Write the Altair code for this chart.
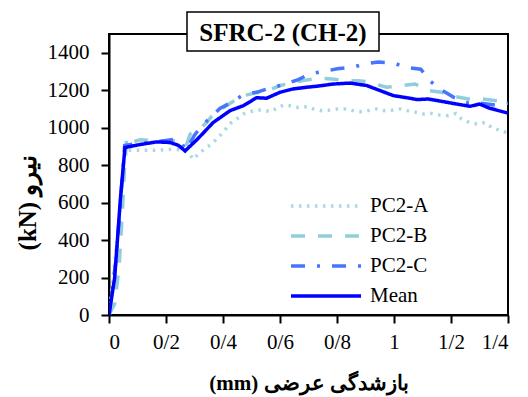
import altair as alt
import pandas as pd

# ---- data ----
mean_x = [0, 0.02, 0.04, 0.056, 0.109, 0.167, 0.214, 0.243, 0.267, 0.308, 0.366, 0.425, 0.471, 0.518, 0.553, 0.6, 0.647, 0.694, 0.729, 0.787, 0.846, 0.904, 0.951, 0.998, 1.056, 1.08, 1.12, 1.173, 1.22, 1.267, 1.3, 1.337, 1.4]
mean_y = [0, 200, 620, 894, 910, 924, 921, 906, 876, 935, 1028, 1091, 1117, 1160, 1157, 1189, 1207, 1216, 1221, 1233, 1238, 1225, 1198, 1171, 1157, 1150, 1153, 1139, 1126, 1114, 1126, 1103, 1078]

a_x = [0, 0.015, 0.035, 0.05, 0.062, 0.109, 0.167, 0.225, 0.26, 0.284, 0.295, 0.313, 0.337, 0.36, 0.389, 0.407, 0.427, 0.448, 0.471, 0.495, 0.518, 0.541, 0.567, 0.591, 0.612, 0.635, 0.664, 0.694, 0.717, 0.746, 0.775, 0.8, 0.828, 0.855, 0.883, 0.91, 0.939, 0.965, 0.995, 1.021, 1.047, 1.077, 1.103, 1.132, 1.161, 1.191, 1.218, 1.237, 1.264, 1.292, 1.319, 1.343, 1.37, 1.4]
a_y = [0, 200, 500, 800, 880, 880, 880, 885, 880, 858, 831, 858, 889, 912, 956, 988, 1024, 1046, 1073, 1085, 1094, 1094, 1085, 1105, 1121, 1117, 1108, 1112, 1100, 1091, 1094, 1100, 1100, 1091, 1085, 1091, 1100, 1091, 1094, 1100, 1091, 1082, 1073, 1076, 1067, 1064, 1076, 1046, 1028, 1019, 1028, 1001, 987, 971]

b_x = [0, 0.02, 0.035, 0.045, 0.055, 0.062, 0.075, 0.109, 0.167, 0.232, 0.255, 0.27, 0.285, 0.319, 0.343, 0.36, 0.378, 0.4, 0.43, 0.47, 0.512, 0.558, 0.6, 0.653, 0.694, 0.734, 0.781, 0.828, 0.875, 0.898, 0.933, 0.974, 1.0, 1.044, 1.074, 1.12, 1.167, 1.208, 1.261, 1.311, 1.36, 1.4]
b_y = [0, 60, 250, 500, 800, 945, 920, 935, 930, 930, 915, 900, 966, 995, 1028, 1060, 1085, 1105, 1135, 1170, 1185, 1198, 1225, 1243, 1255, 1264, 1260, 1251, 1251, 1246, 1233, 1216, 1220, 1228, 1233, 1198, 1189, 1168, 1153, 1153, 1144, 1135]

c_x = [0, 0.025, 0.045, 0.055, 0.1, 0.167, 0.232, 0.25, 0.27, 0.3, 0.32, 0.35, 0.389, 0.43, 0.47, 0.52, 0.576, 0.611, 0.664, 0.705, 0.752, 0.801, 0.857, 0.898, 0.945, 0.998, 1.039, 1.094, 1.129, 1.164, 1.21, 1.26, 1.296, 1.354, 1.4]
c_y = [0, 300, 700, 905, 915, 925, 939, 930, 880, 960, 1000, 1046, 1103, 1135, 1175, 1190, 1217, 1228, 1257, 1287, 1300, 1314, 1323, 1341, 1350, 1346, 1323, 1312, 1246, 1203, 1162, 1132, 1132, 1121, 1130]

series = ["PC2-A", "PC2-B", "PC2-C", "Mean"]
colors = ["#A9D8E4", "#92CDDC", "#4775FF", "#0000FF"]
dashes = [[2.5, 5.5], [14, 13], [14, 12, 3, 12], [1, 0]]
widths = [3.5, 3.5, 3.5, 4]

x_ticks = [0, 0.2, 0.4, 0.6, 0.8, 1.0, 1.2, 1.4]
y_ticks = [0, 200, 400, 600, 800, 1000, 1200, 1400]

rows = []
for name, xs, ys in [("PC2-A", a_x, a_y), ("PC2-B", b_x, b_y), ("PC2-C", c_x, c_y), ("Mean", mean_x, mean_y)]:
    for i, (xv, yv) in enumerate(zip(xs, ys)):
        rows.append({"series": name, "x": xv, "y": yv, "order": i})
df = pd.DataFrame(rows)

FONT = "Liberation Serif"

lines = alt.Chart(df).mark_line(clip=True).encode(
    x=alt.X("x:Q", scale=alt.Scale(domain=[0, 1.4], nice=False),
            axis=alt.Axis(values=x_ticks, title="(mm) بازشدگی عرضی",
                          labelExpr="replace(format(datum.value, '.1~f'), '.', '/')",
                          titleY=68, titleBaseline="middle", titleFontSize=21)),
    y=alt.Y("y:Q", scale=alt.Scale(domain=[0, 1500], nice=False),
            axis=alt.Axis(values=y_ticks, format="d", title="(kN) نیرو",
                          titleAngle=270, titleX=-82, titleY=168,
                          titleAlign="center", titleBaseline="middle",
                          titleFontSize=25, labelPadding=12)),
    color=alt.Color("series:N", scale=alt.Scale(domain=series, range=colors),
                    legend=alt.Legend(title=None, orient="none", legendX=180, legendY=161,
                                      symbolType="stroke", symbolSize=4900, clipHeight=22,
                                      labelFont=FONT, labelFontSize=21, labelColor="black",
                                      labelOffset=7, rowPadding=8)),
    strokeDash=alt.StrokeDash("series:N", scale=alt.Scale(domain=series, range=dashes)),
    strokeWidth=alt.StrokeWidth("series:N", scale=alt.Scale(domain=series, range=widths)),
    order="order:Q",
)

box = alt.Chart(pd.DataFrame({"t": ["SFRC-2 (CH-2)"]})).mark_rect(
    fill="white", stroke="black", strokeWidth=1.5
).encode(x=alt.value(78), x2=alt.value(270), y=alt.value(-22), y2=alt.value(17))

title = alt.Chart(pd.DataFrame({"t": ["SFRC-2 (CH-2)"]})).mark_text(
    font=FONT, fontSize=25, fontWeight="bold", color="black", baseline="middle", align="center"
).encode(x=alt.value(174), y=alt.value(-1), text="t:N")

chart = alt.layer(lines, box, title).properties(
    width=399, height=281,
    autosize=alt.AutoSizeParams(type="none"),
    padding={"left": 109, "top": 34, "right": 20, "bottom": 82},
).configure_view(stroke="black", strokeWidth=2).configure_axis(
    labelFont=FONT, labelFontSize=21, labelColor="black",
    titleFont=FONT, titleFontSize=20, titleFontWeight="bold", titleColor="black",
    domainColor="black", domainWidth=2, tickColor="black", tickWidth=2, tickSize=8,
    grid=False, labelPadding=4,
).configure_axisX(labelPadding=8)

chart.save("out.html", embed_options={"renderer": "svg", "actions": False})
